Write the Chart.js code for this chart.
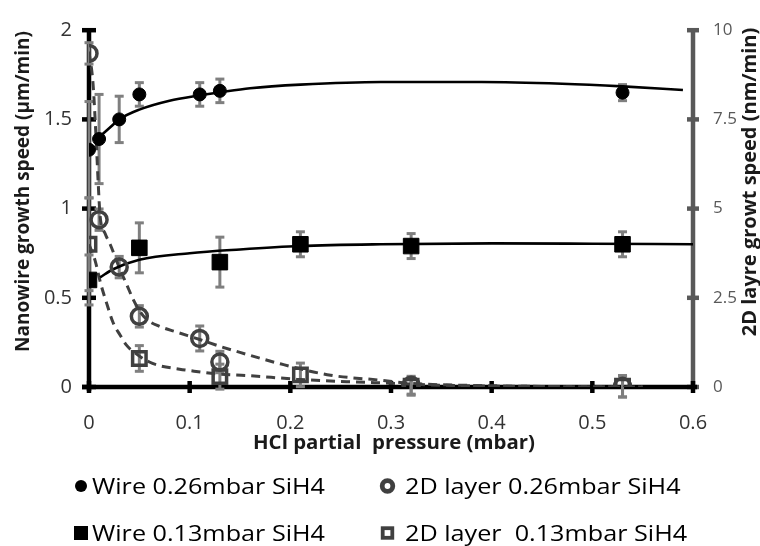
<!DOCTYPE html>
<html><head><meta charset="utf-8">
<script src="https://cdn.jsdelivr.net/npm/chart.js@4.4.0/dist/chart.umd.min.js"></script>
<style>html,body{margin:0;padding:0;background:#fff;}canvas{display:block;}</style>
</head><body>
<canvas id="c" width="760" height="546"></canvas>
<script>
// ---------- data ----------
// Nanowire growth speed (µm/min), left axis
const wire026X   = [0, 0.01, 0.03, 0.05, 0.11, 0.13, 0.53];
const wire026Y   = [1.33, 1.39, 1.50, 1.64, 1.64, 1.66, 1.65];
const wire026Err = [0.27, 0.25, 0.13, 0.066, 0.066, 0.066, 0.045];

const wire013X   = [0, 0.05, 0.13, 0.21, 0.32, 0.53];
const wire013Y   = [0.60, 0.78, 0.70, 0.80, 0.79, 0.80];
const wire013Err = [0.14, 0.14, 0.14, 0.07, 0.07, 0.07];

// 2D layer growth speed (nm/min), right axis
const layer026X   = [0, 0.01, 0.03, 0.05, 0.11, 0.13, 0.32, 0.53];
const layer026Y   = [9.35, 4.69, 3.36, 1.98, 1.36, 0.70, 0.05, 0.02];
const layer026Err = [0.3, 0.3, 0.3, 0.3, 0.35, 0.3, 0.25, 0.3];

const layer013X   = [0, 0.05, 0.13, 0.21, 0.32, 0.53];
const layer013Y   = [4.0, 0.80, 0.29, 0.34, 0.02, 0.02];
const layer013Err = [1.3, 0.36, 0.35, 0.33, 0.25, 0.3];

// fitted curves
const fitWire026X = [0.008, 0.02, 0.03, 0.05, 0.08, 0.11, 0.13, 0.16, 0.21, 0.29, 0.39, 0.47, 0.53, 0.59];
const fitWire026Y = [1.39, 1.45, 1.50, 1.555, 1.605, 1.635, 1.652, 1.675, 1.695, 1.71, 1.71, 1.70, 1.685, 1.665];

const fitWire013X = [0.011, 0.024, 0.05, 0.1, 0.15, 0.21, 0.29, 0.4, 0.5, 0.6];
const fitWire013Y = [0.615, 0.66, 0.713, 0.75, 0.771, 0.79, 0.80, 0.805, 0.803, 0.80];

const fitLayer026X = [0, 0.004, 0.007, 0.009, 0.011, 0.016, 0.021, 0.03, 0.037, 0.044, 0.051, 0.057, 0.07, 0.087, 0.11, 0.13, 0.15, 0.19, 0.24, 0.29, 0.32, 0.37, 0.45, 0.55];
const fitLayer026Y = [9.4, 8.5, 7.0, 5.8, 4.8, 4.3, 4.0, 3.35, 2.9, 2.45, 2.1, 1.9, 1.7, 1.54, 1.33, 1.14, 0.97, 0.65, 0.33, 0.19, 0.1, 0.05, 0.015, 0];

const fitLayer013X = [0, 0.006, 0.0116, 0.0175, 0.024, 0.031, 0.037, 0.046, 0.06, 0.07, 0.09, 0.1, 0.13, 0.157, 0.206, 0.256, 0.305, 0.35, 0.45, 0.55];
const fitLayer013Y = [4.0, 3.55, 2.9, 2.35, 1.8, 1.45, 1.18, 0.95, 0.7, 0.6, 0.5, 0.46, 0.36, 0.32, 0.22, 0.15, 0.1, 0.05, 0.015, 0];

// tick labels
const xTickLabels  = ['0', '0.1', '0.2', '0.3', '0.4', '0.5', '0.6'];
const yTickLabels  = ['0', '0.5', '1', '1.5', '2'];
const y2TickLabels = ['0', '2.5', '5', '7.5', '10'];

// texts
const legendLabels = ['Wire 0.26mbar SiH4', '2D layer 0.26mbar SiH4', 'Wire 0.13mbar SiH4', '2D layer  0.13mbar SiH4'];
const xTitle  = 'HCl partial  pressure (mbar)';
const yTitle  = 'Nanowire growth speed (\u03BCm/min)';
const y2Title = '2D layre growt speed (nm/min)';

// ---------- helpers ----------
const pts = (xs, ys) => xs.map((x, i) => ({x: x, y: ys[i]}));
const DARK = '#404040';
const AXGRAY = '#595959';
const ERRGRAY = '#7f7f7f';
const FONT = "'Open Sans', 'Liberation Sans', sans-serif";

function seg(ctx, x1, y1, x2, y2) { ctx.beginPath(); ctx.moveTo(x1, y1); ctx.lineTo(x2, y2); ctx.stroke(); }

function drawErrors(ctx, xs, ys, errs, xs_, ys_) {
  ctx.strokeStyle = ERRGRAY;
  ctx.lineWidth = 3;
  xs.forEach((xv, i) => {
    const px = xs_.getPixelForValue(xv);
    const t = ys_.getPixelForValue(ys[i] + errs[i]);
    const b = ys_.getPixelForValue(ys[i] - errs[i]);
    seg(ctx, px, t, px, b);
    seg(ctx, px - 4.5, t, px + 4.5, t);
    seg(ctx, px - 4.5, b, px + 4.5, b);
  });
}

function stretchText(ctx, text, x, y, sx) {
  ctx.save(); ctx.translate(x, y); ctx.scale(sx, 1); ctx.fillText(text, 0, 0); ctx.restore();
}

function labelFrom(list, step) {
  return function (v) { return list[Math.round(v / step)]; };
}

const custom = {
  id: 'custom',
  beforeDatasetsDraw(chart) {
    const ctx = chart.ctx;
    const sx = chart.scales.x, sy = chart.scales.y, sy2 = chart.scales.y2;
    ctx.save();
    ctx.lineCap = 'butt';
    // right axis (gray)
    ctx.strokeStyle = AXGRAY; ctx.lineWidth = 4.5;
    seg(ctx, sx.right, sy2.top - 2, sx.right, sy2.bottom);
    sy2.ticks.forEach(t => { const p = sy2.getPixelForValue(t.value); seg(ctx, sx.right - 6, p, sx.right + 6, p); });
    // left axis (black)
    ctx.strokeStyle = '#000';
    seg(ctx, sx.left, sy.top - 2, sx.left, sy.bottom + 4);
    sy.ticks.forEach(t => { const p = sy.getPixelForValue(t.value); seg(ctx, sx.left - 7, p, sx.left + 7, p); });
    // bottom axis
    seg(ctx, sx.left - 7, sy.bottom, sx.right + 4, sy.bottom);
    sx.ticks.forEach(t => { const p = sx.getPixelForValue(t.value); seg(ctx, p, sy.bottom - 6, p, sy.bottom + 6); });
    // error bars
    drawErrors(ctx, wire026X, wire026Y, wire026Err, sx, sy);
    drawErrors(ctx, wire013X, wire013Y, wire013Err, sx, sy);
    drawErrors(ctx, layer026X, layer026Y, layer026Err, sx, sy2);
    drawErrors(ctx, layer013X, layer013Y, layer013Err, sx, sy2);
    ctx.restore();
  },
  afterDraw(chart) {
    const ctx = chart.ctx;
    ctx.save();
    // x title
    ctx.fillStyle = '#1a1a1a';
    ctx.font = "bold 20px " + FONT;
    ctx.textAlign = 'center'; ctx.textBaseline = 'alphabetic';
    const wx = ctx.measureText(xTitle).width;
    stretchText(ctx, xTitle, 394, 449, 282 / wx);
    // y title
    ctx.save(); ctx.translate(29, 191.5); ctx.rotate(-Math.PI / 2);
    ctx.font = "bold 19px " + FONT; ctx.textAlign = 'center';
    ctx.fillText(yTitle, 0, 0); ctx.restore();
    // y2 title
    ctx.save(); ctx.translate(756, 182); ctx.rotate(-Math.PI / 2);
    ctx.font = "bold 20px " + FONT; ctx.textAlign = 'center';
    ctx.fillText(y2Title, 0, 0); ctx.restore();

    // legend
    ctx.font = "22px " + FONT;
    ctx.textAlign = 'left'; ctx.textBaseline = 'alphabetic';
    const k = 233 / ctx.measureText(legendLabels[0]).width;
    const rows = [486, 533], cols = [81, 387.5], textX = [92, 405];
    // markers
    ctx.fillStyle = '#000';
    ctx.beginPath(); ctx.arc(cols[0], rows[0], 6, 0, Math.PI * 2); ctx.fill();
    ctx.fillRect(cols[0] - 7, rows[1] - 7, 14, 14);
    ctx.strokeStyle = DARK; ctx.lineWidth = 4.8;
    ctx.beginPath(); ctx.arc(cols[1], rows[0], 5.3, 0, Math.PI * 2); ctx.stroke();
    ctx.lineWidth = 3.8;
    ctx.strokeRect(cols[1] - 4.8, rows[1] - 4.8, 9.6, 9.6);
    // texts
    ctx.fillStyle = '#000';
    stretchText(ctx, legendLabels[0], textX[0], rows[0] + 7.5, k);
    stretchText(ctx, legendLabels[1], textX[1], rows[0] + 7.5, k);
    stretchText(ctx, legendLabels[2], textX[0], rows[1] + 7.5, k);
    stretchText(ctx, legendLabels[3], textX[1], rows[1] + 7.5, k);
    ctx.restore();
  }
};

new Chart(document.getElementById('c'), {
  type: 'scatter',
  data: {
    datasets: [
      { label: legendLabels[0], data: pts(wire026X, wire026Y), yAxisID: 'y',
        pointStyle: 'circle', pointRadius: 6.5, backgroundColor: '#000', borderColor: '#000', borderWidth: 1, showLine: false },
      { label: legendLabels[2], data: pts(wire013X, wire013Y), yAxisID: 'y',
        pointStyle: 'rect', pointRadius: 11, backgroundColor: '#000', borderColor: '#000', borderWidth: 1, showLine: false },
      { label: legendLabels[1], data: pts(layer026X, layer026Y), yAxisID: 'y2',
        pointStyle: 'circle', pointRadius: 8, backgroundColor: 'rgba(0,0,0,0)', borderColor: DARK, borderWidth: 3.5, showLine: false },
      { label: legendLabels[3], data: pts(layer013X, layer013Y), yAxisID: 'y2',
        pointStyle: 'rect', pointRadius: 9.5, backgroundColor: 'rgba(0,0,0,0)', borderColor: DARK, borderWidth: 3.5, showLine: false },
      { label: 'fit wire 0.26', data: pts(fitWire026X, fitWire026Y), yAxisID: 'y', showLine: true,
        pointRadius: 0, borderColor: '#000', borderWidth: 2.6, cubicInterpolationMode: 'monotone', fill: false },
      { label: 'fit wire 0.13', data: pts(fitWire013X, fitWire013Y), yAxisID: 'y', showLine: true,
        pointRadius: 0, borderColor: '#000', borderWidth: 2.6, cubicInterpolationMode: 'monotone', fill: false },
      { label: 'fit 2D 0.26', data: pts(fitLayer026X, fitLayer026Y), yAxisID: 'y2', showLine: true,
        pointRadius: 0, borderColor: DARK, borderWidth: 3, borderDash: [9, 6], cubicInterpolationMode: 'monotone', fill: false },
      { label: 'fit 2D 0.13', data: pts(fitLayer013X, fitLayer013Y), yAxisID: 'y2', showLine: true,
        pointRadius: 0, borderColor: DARK, borderWidth: 3, borderDash: [9, 6], cubicInterpolationMode: 'monotone', fill: false }
    ]
  },
  options: {
    responsive: false, animation: false, devicePixelRatio: 1,
    layout: { padding: { top: 17, left: 0, right: 0, bottom: 0 } },
    plugins: { legend: { display: false }, tooltip: { enabled: false } },
    scales: {
      x: { type: 'linear', position: 'bottom', min: 0, max: 0.6,
        ticks: { stepSize: 0.1, padding: 24, color: '#333', font: { family: FONT, size: 20 },
          callback: labelFrom(xTickLabels, 0.1) },
        grid: { display: false, drawTicks: false }, border: { display: false },
        afterFit(s) { s.height = 159; } },
      y: { type: 'linear', position: 'left', min: 0, max: 2,
        ticks: { stepSize: 0.5, padding: 17, color: '#333', font: { family: FONT, size: 20 },
          callback: labelFrom(yTickLabels, 0.5) },
        grid: { display: false, drawTicks: false }, border: { display: false },
        afterFit(s) { s.width = 89; } },
      y2: { type: 'linear', position: 'right', min: 0, max: 10,
        ticks: { stepSize: 2.5, padding: 20, color: AXGRAY, font: { family: FONT, size: 17 },
          callback: labelFrom(y2TickLabels, 2.5) },
        grid: { display: false, drawTicks: false }, border: { display: false },
        afterFit(s) { s.width = 67; } }
    }
  },
  plugins: [custom]
});
</script>
</body></html>
